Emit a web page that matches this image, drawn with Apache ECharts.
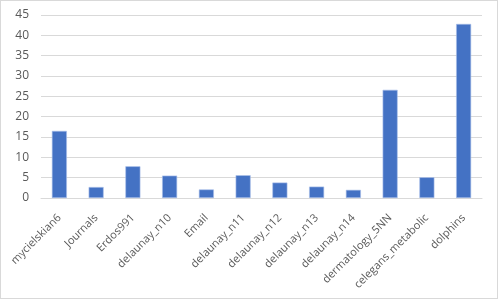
<!DOCTYPE html>
<html><head><meta charset="utf-8">
<script src="https://cdn.jsdelivr.net/npm/echarts@6/dist/echarts.min.js"></script>
<style>html,body{margin:0;padding:0;background:#fff}#c{width:496px;height:297px;border:1px solid #d9d9d9}</style>
</head><body><div id="c"></div>
<script>
const categories = ["mycielskian6","Journals","Erdos991","delaunay_n10","Email","delaunay_n11","delaunay_n12","delaunay_n13","delaunay_n14","dermatology_5NN","celegans_metabolic","dolphins"];
const values = [16.5, 2.7, 7.8, 5.5, 2.1, 5.6, 3.8, 2.8, 2.0, 26.6, 5.1, 42.8];
const yTicks = {min: 0, max: 45, interval: 5};
const chart = echarts.init(document.getElementById('c'), null, {renderer: 'canvas'});
chart.setOption({
  animation: false,
  grid: {left: 40, right: 15, top: 14, bottom: 100, containLabel: false},
  xAxis: {
    type: 'category', data: categories,
    axisLine: {lineStyle: {color: '#d9d9d9'}},
    axisTick: {show: false},
    axisLabel: {rotate: 45, interval: 0, color: '#595959', fontFamily: 'Open Sans, sans-serif', fontSize: 11, margin: 18}
  },
  yAxis: {
    type: 'value', min: yTicks.min, max: yTicks.max, interval: yTicks.interval,
    axisLine: {show: false}, axisTick: {show: false},
    splitLine: {lineStyle: {color: '#d9d9d9'}},
    axisLabel: {color: '#595959', fontFamily: 'Open Sans, sans-serif', fontSize: 12, margin: 12}
  },
  series: [{
    type: 'bar', data: values, barWidth: 15,
    itemStyle: {color: '#4472C4', borderColor: '#a9c0ea', borderWidth: 0.6}
  }]
});
</script></body></html>
